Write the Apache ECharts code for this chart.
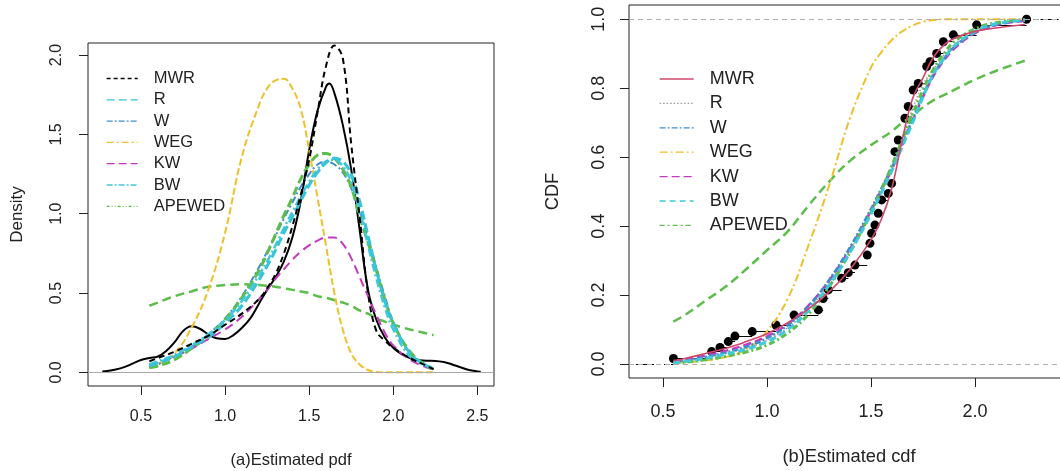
<!DOCTYPE html>
<html>
<head>
<meta charset="utf-8">
<script src="https://cdn.jsdelivr.net/npm/echarts@6/dist/echarts.min.js"></script>
<style>
html,body{margin:0;padding:0;background:#fff;}
#c{width:1060px;height:471px;}
</style>
</head>
<body>
<div id="c"></div>
<script>
// ---------- DATA ----------
const legendNames = ['MWR','R','W','WEG','KW','BW','APEWED'];

// (a) estimated pdf
const pdfX      = [0.55,0.6,0.7,0.8,0.9,1.0,1.1,1.2,1.25,1.3,1.35,1.4,1.45,1.5,1.55,1.6,1.65,1.7,1.75,1.8,1.85,1.9,1.95,2.0,2.1,2.2,2.24];
const pdfMWR    = [0.07,0.09,0.13,0.18,0.23,0.30,0.37,0.46,0.53,0.62,0.75,0.92,1.12,1.34,1.64,1.93,2.06,1.98,1.44,0.98,0.50,0.26,0.20,0.155,0.09,0.04,0.02];
const pdfR      = [0.04,0.06,0.10,0.16,0.22,0.31,0.42,0.58,0.67,0.77,0.88,0.98,1.08,1.18,1.26,1.32,1.35,1.33,1.25,1.08,0.86,0.64,0.45,0.31,0.12,0.04,0.03];
const pdfW      = [0.03,0.05,0.10,0.16,0.24,0.34,0.48,0.66,0.76,0.86,0.97,1.07,1.17,1.25,1.31,1.33,1.31,1.26,1.16,1.02,0.85,0.66,0.48,0.32,0.12,0.04,0.02];
const pdfWEG    = [0.03,0.05,0.12,0.28,0.52,0.88,1.36,1.68,1.79,1.84,1.85,1.79,1.66,1.40,1.10,0.80,0.50,0.27,0.12,0.05,0.015,0.003,0,0,0,0,0];
const pdfKW     = [0.05,0.06,0.10,0.15,0.21,0.27,0.35,0.46,0.52,0.59,0.65,0.71,0.76,0.80,0.83,0.85,0.85,0.81,0.72,0.60,0.48,0.36,0.25,0.17,0.08,0.03,0.02];
const pdfBW     = [0.05,0.07,0.11,0.17,0.24,0.33,0.45,0.61,0.70,0.80,0.91,1.01,1.11,1.20,1.28,1.33,1.34,1.30,1.20,1.02,0.80,0.59,0.41,0.27,0.10,0.04,0.03];
const pdfAPEWED = [0.03,0.04,0.08,0.15,0.23,0.33,0.47,0.64,0.75,0.87,0.99,1.10,1.22,1.31,1.37,1.38,1.35,1.28,1.17,0.98,0.82,0.64,0.46,0.31,0.13,0.04,0.02];
const pdfEXP    = [0.42,0.44,0.48,0.51,0.54,0.55,0.555,0.55,0.545,0.54,0.53,0.52,0.51,0.50,0.48,0.47,0.455,0.44,0.42,0.39,0.37,0.34,0.32,0.30,0.27,0.245,0.235];
const kdeX = [0.27,0.3,0.35,0.4,0.45,0.5,0.55,0.6,0.65,0.7,0.75,0.8,0.85,0.9,0.95,1.0,1.05,1.1,1.15,1.2,1.25,1.3,1.35,1.4,1.45,1.5,1.55,1.6,1.62,1.65,1.7,1.75,1.8,1.85,1.9,1.95,2.0,2.05,2.1,2.15,2.2,2.25,2.3,2.35,2.4,2.45,2.5,2.52];
const kdeY = [0.005,0.008,0.018,0.033,0.055,0.078,0.09,0.10,0.135,0.19,0.26,0.29,0.275,0.24,0.215,0.21,0.235,0.28,0.34,0.43,0.52,0.60,0.70,0.85,1.08,1.40,1.65,1.80,1.82,1.76,1.56,1.28,0.90,0.52,0.33,0.22,0.155,0.115,0.09,0.078,0.073,0.072,0.065,0.05,0.032,0.015,0.006,0.004];

// (b) estimated cdf
const cdfX      = [0.55,0.6,0.7,0.8,0.9,1.0,1.1,1.2,1.3,1.4,1.5,1.55,1.6,1.65,1.7,1.75,1.8,1.85,1.9,2.0,2.1,2.24];
const cdfMWR    = [0.010,0.015,0.030,0.045,0.065,0.088,0.120,0.160,0.210,0.275,0.360,0.420,0.510,0.650,0.770,0.830,0.890,0.925,0.945,0.965,0.975,0.985];
const cdfR      = [0.004,0.008,0.018,0.030,0.045,0.068,0.105,0.160,0.235,0.330,0.440,0.500,0.560,0.650,0.740,0.810,0.855,0.895,0.925,0.965,0.985,0.997];
const cdfW      = [0.005,0.009,0.020,0.033,0.050,0.075,0.112,0.168,0.245,0.340,0.450,0.510,0.570,0.640,0.710,0.780,0.840,0.885,0.920,0.962,0.984,0.997];
const cdfWEG    = [0.002,0.004,0.010,0.020,0.042,0.095,0.190,0.345,0.520,0.715,0.860,0.905,0.940,0.965,0.982,0.993,0.998,1,1,1,1,1];
const cdfKW     = [0.006,0.011,0.024,0.038,0.056,0.080,0.116,0.170,0.243,0.335,0.445,0.505,0.565,0.635,0.705,0.775,0.835,0.880,0.915,0.960,0.983,0.996];
const cdfBW     = [0.003,0.007,0.016,0.028,0.043,0.065,0.100,0.155,0.230,0.325,0.435,0.497,0.560,0.630,0.700,0.775,0.840,0.885,0.922,0.965,0.987,0.998];
const cdfAPEWED = [0.002,0.005,0.012,0.022,0.035,0.055,0.090,0.145,0.225,0.325,0.440,0.505,0.575,0.650,0.725,0.795,0.855,0.900,0.935,0.972,0.990,0.999];
const cdfEXP    = [0.123,0.140,0.182,0.224,0.275,0.330,0.385,0.460,0.530,0.590,0.635,0.655,0.675,0.700,0.720,0.745,0.765,0.780,0.795,0.825,0.850,0.880];
const ecdfX = [0.55,0.734,0.774,0.814,0.846,0.929,1.043,1.13,1.247,1.27,1.295,1.359,1.391,1.423,1.482,1.495,1.503,1.519,1.535,1.551,1.583,1.599,1.615,1.631,1.663,1.679,1.703,1.727,1.768,1.784,1.816,1.848,1.896,2.008,2.248];
const ecdfF = [0.016,0.036,0.048,0.065,0.081,0.094,0.113,0.142,0.157,0.19,0.215,0.249,0.265,0.287,0.316,0.35,0.379,0.403,0.437,0.476,0.495,0.524,0.616,0.65,0.713,0.747,0.795,0.814,0.863,0.877,0.901,0.935,0.955,0.984,1.0];

// tick labels
const pdfXTicks = [0.5,1.0,1.5,2.0,2.5];
const pdfYTicks = [0.0,0.5,1.0,1.5,2.0];
const cdfXTicks = [0.5,1.0,1.5,2.0];
const cdfYTicks = [0.0,0.2,0.4,0.6,0.8,1.0];

// ---------- STYLE ----------
const FF = "'Liberation Sans', Arial, sans-serif";
const C = {
  black:'#000000', cyan:'#36c4d6', steel:'#3f8dcc', gold:'#f0c02c',
  magenta:'#c23bbf', cyan2:'#40c9d9', green:'#5cbd4a', crimson:'#d0476a', gray:'#9a9a9a'
};
const styleA = {
  MWR:{color:C.black, type:[4,3]},
  R:{color:C.cyan, type:[8,4]},
  W:{color:C.steel, type:[6,2,2,2]},
  WEG:{color:C.gold, type:[7,3,2,3]},
  KW:{color:C.magenta, type:[8,4]},
  BW:{color:C.cyan2, type:[6,2,2,2]},
  APEWED:{color:C.green, type:[3,2,1,2,1,2]}
};
const styleB = {
  MWR:{color:C.crimson, type:'solid'},
  R:{color:C.gray, type:[1.5,2]},
  W:{color:C.steel, type:[6,2,2,2]},
  WEG:{color:C.gold, type:[8,3,2,3]},
  KW:{color:C.magenta, type:[8,4]},
  BW:{color:C.cyan2, type:[6,4]},
  APEWED:{color:C.green, type:[5,3,2,3]}
};

function pts(xs, ys){ return xs.map((x,i)=>[x, ys[i]]); }
function curve(name, gi, xs, ys, color, type, width, z){
  return {
    type:'line', name:name, xAxisIndex:gi, yAxisIndex:gi, data:pts(xs,ys),
    symbol:'none', showSymbol:false, smooth:0.4, silent:true,
    lineStyle:{color:color, type:type, width:width}, itemStyle:{color:color}, z:z||3
  };
}

const A = {xmin:0.185, xmax:2.599, ymin:-0.086, ymax:2.076};
const B = {xmin:0.3365, xmax:2.452, ymin:-0.0406, ymax:1.0415};

const series = [
  // panel (a)
  curve('a:KDE',0,kdeX,kdeY,C.black,'solid',2,3),
  curve('a:EXP',0,pdfX,pdfEXP,C.green,[9,5],2.5,3),
  curve('a:WEG',0,pdfX,pdfWEG,C.gold,[7,3],2,3),
  curve('a:KW',0,pdfX,pdfKW,C.magenta,[9,5],2,3),
  curve('a:W',0,pdfX,pdfW,C.steel,[7,3,2,3],2,4),
  curve('a:APEWED',0,pdfX,pdfAPEWED,C.green,[9,4],3,4),
  curve('a:BW',0,pdfX,pdfBW,C.cyan2,[8,3,2,3],2.5,4),
  curve('a:R',0,pdfX,pdfR,C.cyan,[9,4],3,4),
  curve('a:MWR',0,pdfX,pdfMWR,C.black,[6,4],2,5),
  // panel (b)
  {
    type:'lines', name:'b:ECDF', coordinateSystem:'cartesian2d', xAxisIndex:1, yAxisIndex:1, silent:true,
    polyline:false, lineStyle:{color:'#000', width:1.2, opacity:1}, z:2,
    data: ecdfX.slice(0,-1).map((x,i)=>({coords:[[x,ecdfF[i]],[ecdfX[i+1],ecdfF[i]]]}))
  },
  {
    type:'lines', name:'b:ECDFend', coordinateSystem:'cartesian2d', xAxisIndex:1, yAxisIndex:1, silent:true,
    polyline:false, lineStyle:{color:'#000', width:1.2, type:[4,3], opacity:1}, z:2,
    data:[{coords:[[B.xmin,0],[ecdfX[0],0]]},{coords:[[ecdfX[ecdfX.length-1],1],[B.xmax,1]]}],
    markLine:{silent:true, symbol:['none','none'], label:{show:false},
      lineStyle:{color:'#b0b0b0', type:[5,4], width:1}, data:[{yAxis:0},{yAxis:1}]}
  },
  {
    type:'scatter', name:'b:dots', xAxisIndex:1, yAxisIndex:1, data:pts(ecdfX,ecdfF),
    symbol:'circle', symbolSize:9, itemStyle:{color:'#000', opacity:1}, silent:true, z:3
  },
  curve('b:EXP',1,cdfX,cdfEXP,C.green,[9,5],2.5,4),
  curve('b:WEG',1,cdfX,cdfWEG,C.gold,[8,3,2,3],2,4),
  curve('b:R',1,cdfX,cdfR,C.gray,[1.5,2],1.5,4),
  curve('b:KW',1,cdfX,cdfKW,C.magenta,[8,4],2.5,4),
  curve('b:W',1,cdfX,cdfW,C.steel,[6,2,2,2],2.5,4),
  curve('b:APEWED',1,cdfX,cdfAPEWED,C.green,[6,3,2,3],3,4),
  curve('b:BW',1,cdfX,cdfBW,C.cyan2,[7,4],3,4),
  curve('b:MWR',1,cdfX,cdfMWR,C.crimson,'solid',1.6,5)
];
// gray baseline in panel (a)
series[0].markLine = {silent:true, symbol:['none','none'], label:{show:false},
  lineStyle:{color:'#aaaaaa', type:'solid', width:1}, data:[{yAxis:0}]};

function valAxis(gi, min, max, ticks, fs, margin, rotate, name, nameGap, nameFs){
  return {
    type:'value', gridIndex:gi, min:min, max:max, scale:true,
    axisLine:{show:false, onZero:false},
    axisTick:{show:true, length:9, customValues:ticks, lineStyle:{color:'#222', width:1}},
    axisLabel:{customValues:ticks, formatter:v=>Number(v).toFixed(1), fontSize:fs, color:'#222',
      fontFamily:FF, margin:margin, rotate:rotate},
    splitLine:{show:false},
    name:name, nameLocation:'middle', nameGap:nameGap,
    nameTextStyle:{fontSize:nameFs, color:'#222', fontFamily:FF}
  };
}

function legend(prefix, styles, left, top, fs, gap, w){
  return {
    show:true, orient:'vertical', left:left, top:top, itemWidth:w, itemHeight:10, itemGap:gap,
    selectedMode:false, padding:0,
    data: legendNames.map(n=>({name:prefix+n, itemStyle:{opacity:0},
      lineStyle:{color:styles[n].color, type:styles[n].type, width:1.3, opacity:1}})),
    formatter: n => '{g| }{t|' + n.slice(2) + '}',
    textStyle:{rich:{
      g:{width:11, fontSize:fs, lineHeight:16},
      t:{fontSize:fs, lineHeight:16, color:'#222', fontFamily:FF}
    }}
  };
}

const option = {
  animation:false,
  backgroundColor:'#ffffff',
  grid:[
    {left:88, top:43, width:406, height:343, show:true, borderColor:'#222', borderWidth:1,
     backgroundColor:'transparent', containLabel:false, outerBoundsMode:'none'},
    {left:629, top:5, width:440, height:373, show:true, borderColor:'#222', borderWidth:1,
     backgroundColor:'transparent', containLabel:false, outerBoundsMode:'none'}
  ],
  xAxis:[
    valAxis(0, A.xmin, A.xmax, pdfXTicks, 16, 23, 0, '(a)Estimated pdf', 66, 16.5),
    valAxis(1, B.xmin, B.xmax, cdfXTicks, 18, 25, 0, '(b)Estimated cdf', 70, 18.3)
  ],
  yAxis:[
    valAxis(0, A.ymin, A.ymax, pdfYTicks, 16, 23.5, 90, 'Density', 62, 17),
    valAxis(1, B.ymin, B.ymax, cdfYTicks, 18, 21, 90, 'CDF', 67, 18.3)
  ],
  legend:[
    legend('a:', styleA, 106, 70, 16.5, 4.3, 31),
    legend('b:', styleB, 659, 70, 18, 6.4, 34)
  ],
  series:series
};

const chart = echarts.init(document.getElementById('c'), null, {renderer:'canvas', width:1060, height:471});
chart.setOption(option);
</script>
</body>
</html>
